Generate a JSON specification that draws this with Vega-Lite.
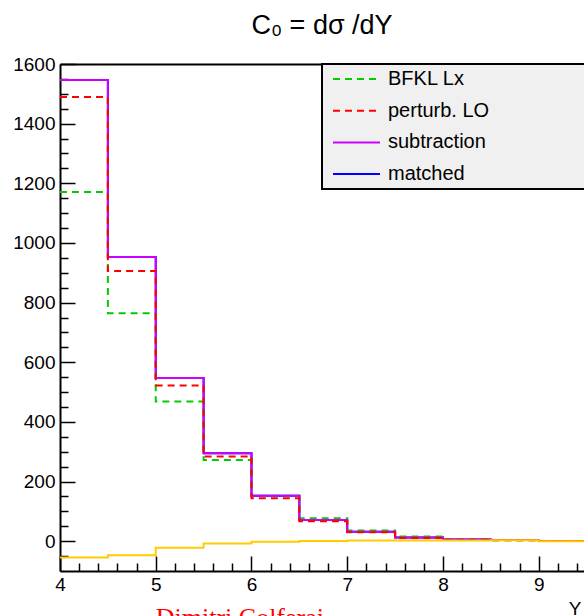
{
  "$schema": "https://vega.github.io/schema/vega-lite/v6.json",
  "width": 524,
  "height": 507,
  "autosize": {"type": "none"},
  "padding": {"left": 60, "top": 64, "right": 0, "bottom": 45},
  "background": "white",
  "title": {
    "text": "C₀ = dσ /dY",
    "font": "Liberation Sans",
    "fontSize": 27,
    "fontWeight": "normal",
    "color": "black",
    "anchor": "middle",
    "baseline": "alphabetic",
    "offset": -6
  },
  "datasets": {
    "hist": [
      {"series": "matched", "x": 4.0, "y": 1546}, {"series": "matched", "x": 4.5, "y": 953}, {"series": "matched", "x": 5.0, "y": 547}, {"series": "matched", "x": 5.5, "y": 295}, {"series": "matched", "x": 6.0, "y": 152}, {"series": "matched", "x": 6.5, "y": 71}, {"series": "matched", "x": 7.0, "y": 32}, {"series": "matched", "x": 7.5, "y": 12}, {"series": "matched", "x": 8.0, "y": 6}, {"series": "matched", "x": 8.5, "y": 4}, {"series": "matched", "x": 9.0, "y": 1}, {"series": "matched", "x": 9.5, "y": 0}, {"series": "matched", "x": 10.0, "y": 0},
      {"series": "BFKL Lx", "x": 4.0, "y": 1171}, {"series": "BFKL Lx", "x": 4.5, "y": 764}, {"series": "BFKL Lx", "x": 5.0, "y": 468}, {"series": "BFKL Lx", "x": 5.5, "y": 272}, {"series": "BFKL Lx", "x": 6.0, "y": 152}, {"series": "BFKL Lx", "x": 6.5, "y": 77}, {"series": "BFKL Lx", "x": 7.0, "y": 36}, {"series": "BFKL Lx", "x": 7.5, "y": 16}, {"series": "BFKL Lx", "x": 8.0, "y": 6}, {"series": "BFKL Lx", "x": 8.5, "y": 3}, {"series": "BFKL Lx", "x": 9.0, "y": 1}, {"series": "BFKL Lx", "x": 9.5, "y": 0}, {"series": "BFKL Lx", "x": 10.0, "y": 0},
      {"series": "subtraction", "x": 4.0, "y": 1546}, {"series": "subtraction", "x": 4.5, "y": 953}, {"series": "subtraction", "x": 5.0, "y": 547}, {"series": "subtraction", "x": 5.5, "y": 295}, {"series": "subtraction", "x": 6.0, "y": 152}, {"series": "subtraction", "x": 6.5, "y": 71}, {"series": "subtraction", "x": 7.0, "y": 32}, {"series": "subtraction", "x": 7.5, "y": 12}, {"series": "subtraction", "x": 8.0, "y": 6}, {"series": "subtraction", "x": 8.5, "y": 4}, {"series": "subtraction", "x": 9.0, "y": 1}, {"series": "subtraction", "x": 9.5, "y": 0}, {"series": "subtraction", "x": 10.0, "y": 0},
      {"series": "perturb. LO", "x": 4.0, "y": 1489}, {"series": "perturb. LO", "x": 4.5, "y": 906}, {"series": "perturb. LO", "x": 5.0, "y": 522}, {"series": "perturb. LO", "x": 5.5, "y": 284}, {"series": "perturb. LO", "x": 6.0, "y": 144}, {"series": "perturb. LO", "x": 6.5, "y": 67}, {"series": "perturb. LO", "x": 7.0, "y": 30}, {"series": "perturb. LO", "x": 7.5, "y": 11}, {"series": "perturb. LO", "x": 8.0, "y": 5}, {"series": "perturb. LO", "x": 8.5, "y": 3}, {"series": "perturb. LO", "x": 9.0, "y": 1}, {"series": "perturb. LO", "x": 9.5, "y": 0}, {"series": "perturb. LO", "x": 10.0, "y": 0}
    ],
    "diff": [
      {"x": 4.0, "y": -55}, {"x": 4.5, "y": -47}, {"x": 5.0, "y": -22}, {"x": 5.5, "y": -8}, {"x": 6.0, "y": -2}, {"x": 6.5, "y": 1}, {"x": 7.0, "y": 2}, {"x": 7.5, "y": 2}, {"x": 8.0, "y": 2}, {"x": 8.5, "y": 3}, {"x": 9.0, "y": 0}, {"x": 9.5, "y": 0}, {"x": 10.0, "y": 0}
    ],
    "signature": [{"label": "Dimitri Colferai"}]
  },
  "layer": [
    {
      "data": {"name": "hist"},
      "mark": {"type": "line", "interpolate": "step-after", "strokeWidth": 2, "clip": true},
      "encoding": {
        "x": {
          "field": "x", "type": "quantitative",
          "scale": {"domain": [4, 9.473], "nice": false, "zero": false},
          "axis": {
            "values": [4, 5, 6, 7, 8, 9], "format": "d",
            "tickSize": -15, "tickWidth": 1.5, "tickColor": "black",
            "domainColor": "black", "domainWidth": 2,
            "labelFont": "Liberation Sans", "labelFontSize": 19, "labelColor": "black",
            "labelPadding": 19, "labelFlush": false, "labelOverlap": false,
            "grid": false,
            "title": "Y", "titleFont": "Liberation Sans", "titleFontSize": 19, "titleFontWeight": "normal", "titleColor": "black",
            "titleAnchor": "end", "titleAlign": "right", "titleBaseline": "alphabetic", "titleX": 521, "titleY": 43
          }
        },
        "y": {
          "field": "y", "type": "quantitative",
          "scale": {"domain": [-100, 1600], "nice": false, "zero": false},
          "axis": {
            "values": [0, 200, 400, 600, 800, 1000, 1200, 1400, 1600], "format": "d",
            "tickSize": -15, "tickWidth": 1.5, "tickColor": "black",
            "domainColor": "black", "domainWidth": 2,
            "labelFont": "Liberation Sans", "labelFontSize": 19, "labelColor": "black",
            "labelPadding": 20, "labelFlush": false, "labelOverlap": false,
            "grid": false, "title": null
          }
        },
        "color": {
          "field": "series", "type": "nominal",
          "scale": {"domain": ["BFKL Lx", "perturb. LO", "subtraction", "matched"], "range": ["#00cc00", "#ff0000", "#cc00ff", "#0000ff"]},
          "legend": {
            "orient": "none", "legendX": 262, "legendY": 0, "title": null,
            "fillColor": "#f0f0f0", "strokeColor": "black", "padding": 4, "rowPadding": 10.7,
            "symbolType": "M-1,0H3.7", "symbolSize": 400, "symbolStrokeWidth": 2, "symbolOffset": 6,
            "labelOffset": 34, "labelFontSize": 20, "labelFont": "Liberation Sans", "labelColor": "black", "labelLimit": 0,
            "labelExpr": "datum.label + '\u00a0\u00a0\u00a0\u00a0\u00a0\u00a0\u00a0\u00a0\u00a0\u00a0\u00a0\u00a0\u00a0\u00a0\u00a0\u00a0\u00a0\u00a0\u00a0\u00a0\u00a0\u00a0\u00a0\u00a0\u00a0\u200b'",
            "encode": {"legend": {"update": {"strokeWidth": {"value": 2}}}}
          }
        },
        "strokeDash": {
          "field": "series", "type": "nominal",
          "scale": {"domain": ["BFKL Lx", "perturb. LO", "subtraction", "matched"], "range": [[7, 5], [7, 5], [1, 0], [1, 0]]},
          "legend": {
            "orient": "none", "legendX": 262, "legendY": 0, "title": null,
            "fillColor": "#f0f0f0", "strokeColor": "black", "padding": 4, "rowPadding": 10.7,
            "symbolType": "M-1,0H3.7", "symbolSize": 400, "symbolStrokeWidth": 2, "symbolOffset": 6,
            "labelOffset": 34, "labelFontSize": 20, "labelFont": "Liberation Sans", "labelColor": "black", "labelLimit": 0,
            "labelExpr": "datum.label + '\u00a0\u00a0\u00a0\u00a0\u00a0\u00a0\u00a0\u00a0\u00a0\u00a0\u00a0\u00a0\u00a0\u00a0\u00a0\u00a0\u00a0\u00a0\u00a0\u00a0\u00a0\u00a0\u00a0\u00a0\u00a0\u200b'",
            "encode": {"legend": {"update": {"strokeWidth": {"value": 2}}}}
          }
        }
      }
    },
    {
      "data": {"name": "diff"},
      "mark": {"type": "line", "interpolate": "step-after", "strokeWidth": 2, "color": "#ffcc00", "clip": true},
      "encoding": {
        "x": {
          "field": "x", "type": "quantitative",
          "scale": {"domain": [4, 9.473], "nice": false, "zero": false},
          "axis": {
            "orient": "bottom",
            "values": [4.2, 4.4, 4.6, 4.8, 5.2, 5.4, 5.6, 5.8, 6.2, 6.4, 6.6, 6.8, 7.2, 7.4, 7.6, 7.8, 8.2, 8.4, 8.6, 8.8, 9.2, 9.4],
            "tickSize": -8, "tickWidth": 1.5, "tickColor": "black",
            "domain": false, "labels": false, "grid": false, "title": null
          }
        },
        "y": {
          "field": "y", "type": "quantitative",
          "scale": {"domain": [-100, 1600], "nice": false, "zero": false},
          "axis": {
            "orient": "left",
            "values": [-50, 50, 100, 150, 250, 300, 350, 450, 500, 550, 650, 700, 750, 850, 900, 950, 1050, 1100, 1150, 1250, 1300, 1350, 1450, 1500, 1550],
            "tickSize": -8, "tickWidth": 1.5, "tickColor": "black",
            "domain": false, "labels": false, "grid": false, "title": null
          }
        }
      }
    },
    {
      "data": {"name": "signature"},
      "mark": {"type": "text", "align": "left", "baseline": "alphabetic", "font": "Liberation Serif", "fontSize": 26, "color": "#ff0000", "clip": false},
      "encoding": {
        "x": {
          "datum": 5.0, "type": "quantitative",
          "scale": {"domain": [4, 9.473], "nice": false, "zero": false},
          "axis": {"orient": "top", "labels": false, "ticks": false, "domain": true, "domainColor": "black", "domainWidth": 2, "grid": false, "title": null}
        },
        "y": {
          "datum": -286, "type": "quantitative",
          "scale": {"domain": [-100, 1600], "nice": false, "zero": false},
          "axis": null
        },
        "text": {"field": "label"}
      }
    }
  ],
  "resolve": {"scale": {"x": "independent", "y": "independent"}},
  "config": {"view": {"stroke": null}, "font": "Liberation Sans"}
}
